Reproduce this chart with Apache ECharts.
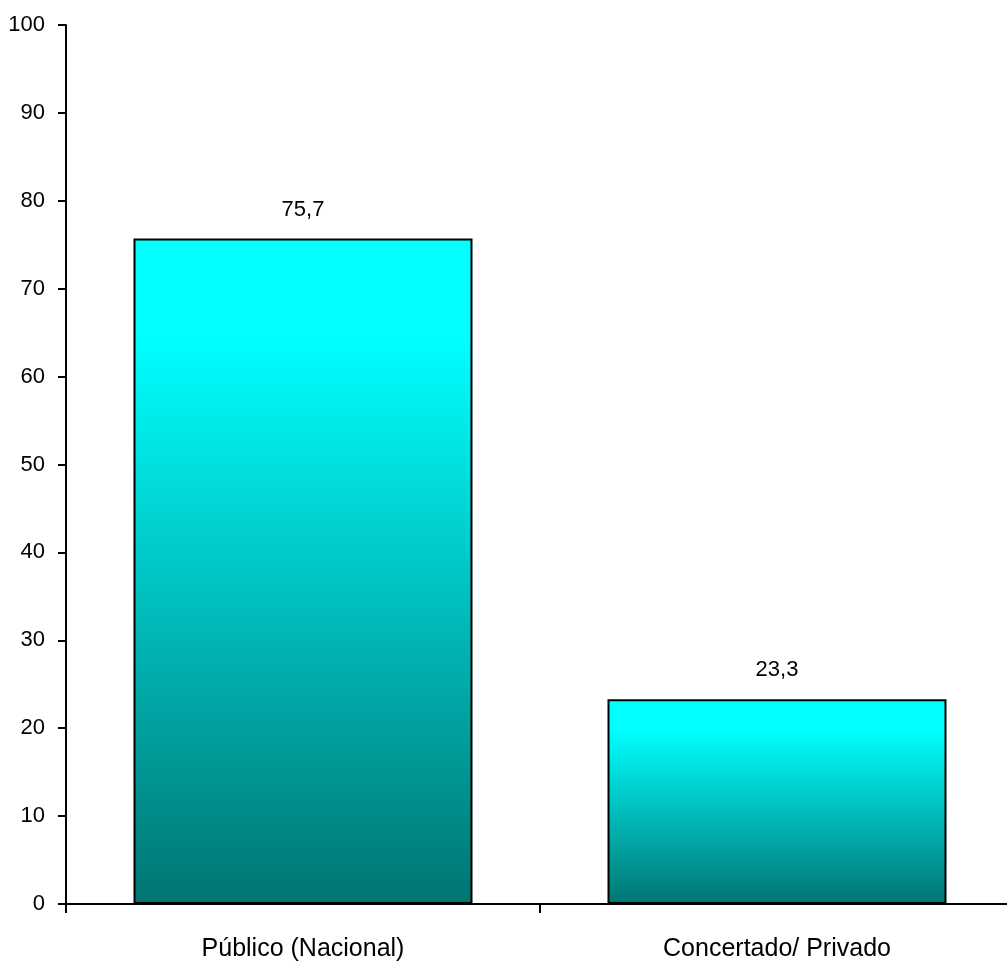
<!DOCTYPE html>
<html><head><meta charset="utf-8">
<script src="https://cdn.jsdelivr.net/npm/echarts@6/dist/echarts.min.js"></script>
<style>html,body{margin:0;padding:0;background:#fff}#c{width:1007px;height:963px}</style>
</head><body><div id="c"></div>
<script>
const categories = ['Público (Nacional)', 'Concertado/ Privado'];
const values = [75.7, 23.3];
const yMin = 0, yMax = 100, yStep = 10;

const FONT = '"Liberation Sans",Arial,sans-serif';
const chart = echarts.init(document.getElementById('c'), null, {renderer: 'canvas'});
chart.setOption({
  animation: false,
  backgroundColor: '#ffffff',
  grid: {left: 66, top: 25, height: 879, width: 948, containLabel: false, outerBoundsMode: 'none'},
  xAxis: {
    type: 'category',
    data: categories,
    axisLine: {lineStyle: {color: '#000', width: 2}},
    axisTick: {show: true, length: 9, alignWithLabel: false, lineStyle: {color: '#000', width: 2}},
    axisLabel: {color: '#000', fontFamily: FONT, fontSize: 25, margin: 33}
  },
  yAxis: {
    type: 'value',
    min: yMin, max: yMax, interval: yStep,
    splitLine: {show: false},
    axisLine: {show: true, lineStyle: {color: '#000', width: 2}},
    axisTick: {show: true, length: 8, lineStyle: {color: '#000', width: 2}},
    axisLabel: {color: '#000', fontFamily: FONT, fontSize: 22, margin: 21,
      formatter: v => String(v)}
  },
  series: [{
    type: 'bar',
    data: values,
    barWidth: 339,
    itemStyle: {
      borderColor: '#000', borderWidth: 2,
      color: new echarts.graphic.LinearGradient(0, 0, 0, 1, [
        {offset: 0, color: '#00ffff'},
        {offset: 0.15, color: '#00ffff'},
        {offset: 1, color: '#007572'}
      ])
    },
    label: {
      show: true, position: 'top', distance: 18,
      color: '#000', fontFamily: FONT, fontSize: 22,
      formatter: p => String(p.value).replace('.', ',')
    }
  }]
});
</script></body></html>
